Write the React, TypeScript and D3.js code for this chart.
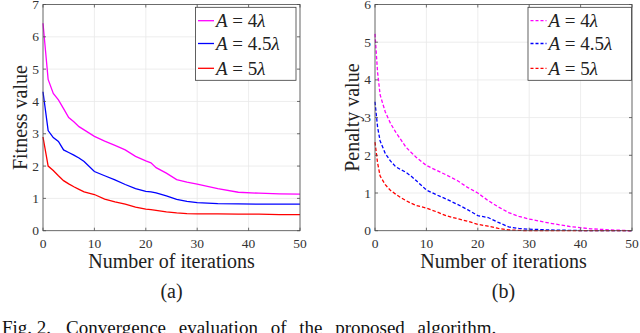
import React from 'react';
import * as d3 from 'd3';

const fitnessIters = [0, 1, 2, 3, 4, 5, 6, 7, 8, 10, 12, 14, 16, 18, 20, 21, 22, 24, 26, 28, 30, 34, 38, 42, 46, 50];
const fitness4 = [6.42, 4.68, 4.25, 4.05, 3.78, 3.5, 3.37, 3.22, 3.12, 2.92, 2.77, 2.64, 2.5, 2.3, 2.16, 2.1, 1.95, 1.78, 1.58, 1.5, 1.44, 1.3, 1.19, 1.16, 1.14, 1.13];
const fitness45 = [4.3, 3.1, 2.88, 2.76, 2.5, 2.42, 2.34, 2.25, 2.14, 1.83, 1.7, 1.57, 1.43, 1.3, 1.22, 1.2, 1.17, 1.08, 0.97, 0.91, 0.87, 0.84, 0.83, 0.82, 0.82, 0.82];
const fitness5 = [2.9, 2.0, 1.86, 1.7, 1.55, 1.45, 1.36, 1.28, 1.2, 1.12, 0.98, 0.89, 0.82, 0.73, 0.67, 0.65, 0.63, 0.58, 0.55, 0.53, 0.52, 0.52, 0.51, 0.51, 0.5, 0.5];

const penaltyIters = [0, 0.5, 1, 2, 3, 4, 5, 6, 7, 8, 10, 12, 14, 16, 18, 20, 22, 24, 26, 28, 30, 34, 38, 42, 46, 50];
const penalty4 = [5.22, 4.2, 3.6, 3.15, 2.85, 2.62, 2.42, 2.22, 2.08, 1.95, 1.73, 1.6, 1.47, 1.33, 1.15, 1.0, 0.8, 0.63, 0.48, 0.38, 0.31, 0.2, 0.11, 0.05, 0.02, 0];
const penalty45 = [3.42, 2.75, 2.38, 2.05, 1.85, 1.7, 1.62, 1.55, 1.45, 1.33, 1.08, 0.95, 0.83, 0.7, 0.56, 0.4, 0.35, 0.22, 0.1, 0.06, 0.04, 0.02, 0.01, 0, 0, 0];
const penalty5 = [2.35, 1.8, 1.45, 1.22, 1.07, 0.97, 0.88, 0.8, 0.73, 0.67, 0.6, 0.5, 0.39, 0.32, 0.25, 0.17, 0.12, 0.06, 0.02, 0.01, 0, 0, 0, 0, 0, 0];

const legendLabels = ['4', '4.5', '5'];
const seriesColors = ['#ff00ff', '#0000ff', '#ff0000'];
const xTicks = [0, 10, 20, 30, 40, 50];

const FONT = '"Liberation Serif", "Times New Roman", serif';

type PanelProps = {
  left: number;
  right: number;
  yMax: number;
  iters: number[];
  series: number[][];
  dashed: boolean;
  yLabel: string;
  tag: string;
  legend: { x0: number; x1: number };
};

function Panel({ left, right, yMax, iters, series, dashed, yLabel, tag, legend }: PanelProps) {
  const top = 4.5;
  const bottom = 230.7;
  const x = d3.scaleLinear().domain([0, 50]).range([left, right]);
  const y = d3.scaleLinear().domain([0, yMax]).range([bottom, top]);
  const yTicks = d3.range(0, yMax + 1);
  const line = d3.line<number>().x((_, i) => x(iters[i])).y((d) => y(d));
  const axisColor = '#4d4d4d';
  const tl = 3;
  const legendRows = [20.7, 43.5, 68.3];

  return (
    <g fontFamily={FONT}>
      {xTicks.map((t) => (
        <line key={'gx' + t} x1={x(t)} x2={x(t)} y1={top} y2={bottom} stroke="#e8e8e8" strokeWidth={0.8} />
      ))}
      {yTicks.map((t) => (
        <line key={'gy' + t} x1={left} x2={right} y1={y(t)} y2={y(t)} stroke="#e8e8e8" strokeWidth={0.8} />
      ))}
      {series.map((s, i) => (
        <path
          key={'s' + i}
          d={line(s) || ''}
          fill="none"
          stroke={seriesColors[i]}
          strokeWidth={1.3}
          strokeDasharray={dashed ? '3.5 2' : undefined}
        />
      ))}
      <rect x={left} y={top} width={right - left} height={bottom - top} fill="none" stroke={axisColor} strokeWidth={0.8} />
      {xTicks.map((t) => (
        <g key={'tx' + t}>
          <line x1={x(t)} x2={x(t)} y1={bottom} y2={bottom - tl} stroke={axisColor} strokeWidth={0.8} />
          <line x1={x(t)} x2={x(t)} y1={top} y2={top + tl} stroke={axisColor} strokeWidth={0.8} />
          <text x={x(t)} y={248} textAnchor="middle" fontSize={13.5} fontFamily={FONT} fill="#333">
            {t}
          </text>
        </g>
      ))}
      {yTicks.map((t) => (
        <g key={'ty' + t}>
          <line x1={left} x2={left + tl} y1={y(t)} y2={y(t)} stroke={axisColor} strokeWidth={0.8} />
          <line x1={right} x2={right - tl} y1={y(t)} y2={y(t)} stroke={axisColor} strokeWidth={0.8} />
          <text x={left - 4} y={y(t) + 4.5} textAnchor="end" fontSize={13.5} fontFamily={FONT} fill="#333">
            {t}
          </text>
        </g>
      ))}
      <text x={(left + right) / 2} y={268} textAnchor="middle" fontSize={20} fontFamily={FONT} fill="#222">
        Number of iterations
      </text>
      <text
        transform={`translate(${left - 16},${(top + bottom) / 2}) rotate(-90)`}
        textAnchor="middle"
        fontSize={20}
        fontFamily={FONT}
        fill="#222"
      >
        {yLabel}
      </text>
      <text x={(left + right) / 2} y={298} textAnchor="middle" fontSize={20} fontFamily={FONT} fill="#222">
        {tag}
      </text>
      <rect x={legend.x0} y={7.3} width={legend.x1 - legend.x0} height={73} fill="#fff" stroke="#3a3a3a" strokeWidth={0.8} />
      {legendLabels.map((lab, i) => (
        <g key={'lg' + i}>
          <line
            x1={legend.x0 + 2.5}
            x2={legend.x0 + 18.5}
            y1={legendRows[i]}
            y2={legendRows[i]}
            stroke={seriesColors[i]}
            strokeWidth={1.3}
            strokeDasharray={dashed ? '3 2' : undefined}
          />
          <text x={legend.x0 + 20.5} y={legendRows[i] + 6.5} fontSize={19} fontFamily={FONT} fill="#222">
            <tspan fontStyle="italic">A</tspan>
            {' = ' + lab}
            <tspan fontStyle="italic">λ</tspan>
          </text>
        </g>
      ))}
    </g>
  );
}

export default function App() {
  return (
    <svg
      width={640}
      height={333}
      style={{ position: 'absolute', left: 0, top: 0, background: '#fff', fontFamily: FONT }}
    >
      <Panel
        left={43}
        right={300}
        yMax={7}
        iters={fitnessIters}
        series={[fitness4, fitness45, fitness5]}
        dashed={false}
        yLabel="Fitness value"
        tag="(a)"
        legend={{ x0: 195.5, x1: 296 }}
      />
      <Panel
        left={375}
        right={632}
        yMax={6}
        iters={penaltyIters}
        series={[penalty4, penalty45, penalty5]}
        dashed={true}
        yLabel="Penalty value"
        tag="(b)"
        legend={{ x0: 528, x1: 631.5 }}
      />
      <text x={2} y={334} fontSize={19} fontFamily={FONT} fill="#111">
        Fig. 2.
        <tspan dx={15} wordSpacing={8}>Convergence evaluation of the proposed algorithm.</tspan>
      </text>
    </svg>
  );
}
